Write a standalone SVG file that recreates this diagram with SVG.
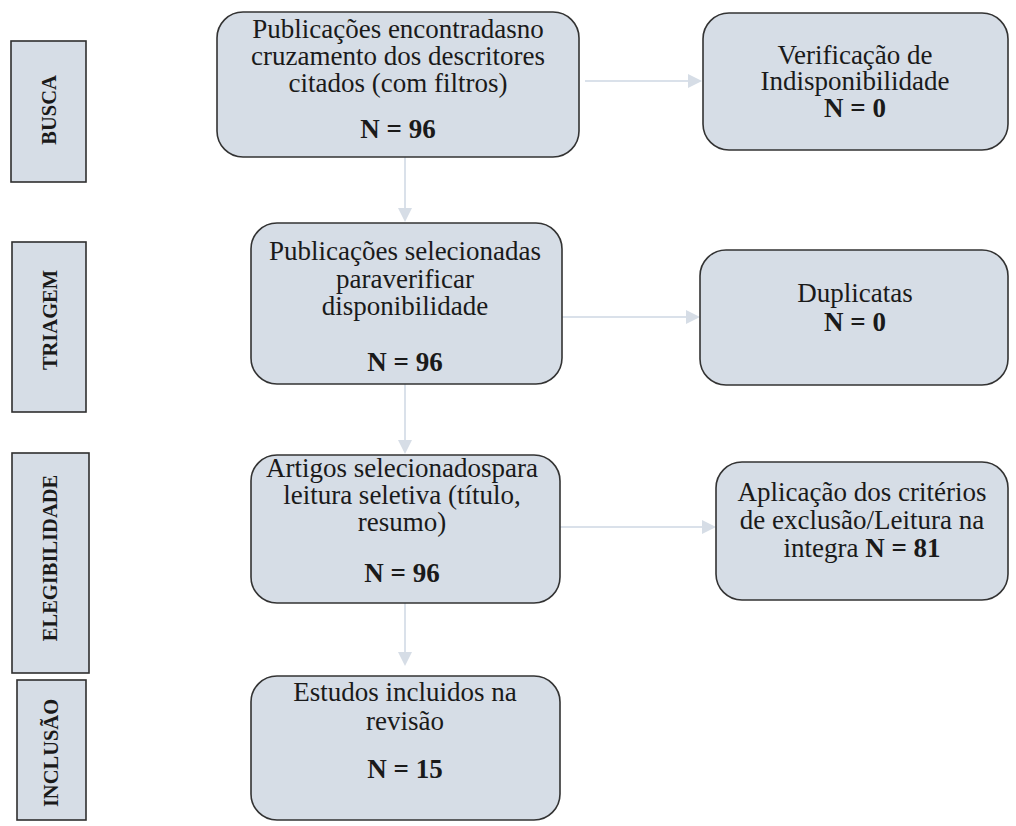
<svg xmlns="http://www.w3.org/2000/svg" width="1016" height="826" viewBox="0 0 1016 826">
<style>
.bx{fill:#d6dde6;stroke:#333;stroke-width:1.6}
.sb{fill:#d6dde6;stroke:#2f2f2f;stroke-width:1.6}
.t{font-family:"Liberation Serif","Times New Roman",serif;font-size:27px;fill:#1a1a1a;text-anchor:middle}
.b{font-weight:bold}
.s{font-family:"Liberation Serif","Times New Roman",serif;font-size:20.5px;font-weight:bold;fill:#1a1a1a;text-anchor:middle}
.c{stroke:#dae1ea;stroke-width:2;fill:none}
.ah{fill:#d6dde6}
</style>
<rect width="1016" height="826" fill="#ffffff"/>
<g id="connectors">
<line class="c" x1="585" y1="81" x2="690" y2="81"/><polygon class="ah" points="702,81 688,74 688,88"/>
<line class="c" x1="562" y1="317" x2="688" y2="317"/><polygon class="ah" points="700,317 686,310 686,324"/>
<line class="c" x1="560" y1="527" x2="704" y2="527"/><polygon class="ah" points="716,527 702,520 702,534"/>
<line class="c" x1="405" y1="157" x2="405" y2="210"/><polygon class="ah" points="405,222 398,208 412,208"/>
<line class="c" x1="405" y1="384" x2="405" y2="442"/><polygon class="ah" points="405,454 398,440 412,440"/>
<line class="c" x1="405" y1="603" x2="405" y2="654"/><polygon class="ah" points="405,666 398,652 412,652"/>
</g>
<g id="busca"><rect class="sb" x="11" y="41" width="75" height="141"/><text class="s" transform="translate(56,110) rotate(-90)">BUSCA</text></g>
<g id="triagem"><rect class="sb" x="12" y="242" width="74" height="170"/><text class="s" transform="translate(57,320) rotate(-90)">TRIAGEM</text></g>
<g id="elegibilidade"><rect class="sb" x="12" y="453" width="77" height="220"/><text class="s" transform="translate(57,558) rotate(-90)">ELEGIBILIDADE</text></g>
<g id="inclusao"><rect class="sb" x="17" y="680" width="69" height="140"/><text class="s" transform="translate(58,753) rotate(-90)">INCLUSÃO</text></g>
<g id="n1"><rect class="bx" x="217" y="12" width="362" height="145" rx="26"/>
<text class="t" x="398" y="38">Publicações encontradasno</text>
<text class="t" x="398" y="65">cruzamento dos descritores</text>
<text class="t" x="398" y="92">citados (com filtros)</text>
<text class="t b" x="398" y="138">N = 96</text></g>
<g id="n2"><rect class="bx" x="703" y="13" width="305" height="137" rx="26"/>
<text class="t" x="855" y="64">Verificação de</text>
<text class="t" x="855" y="90">Indisponibilidade</text>
<text class="t b" x="855" y="117">N = 0</text></g>
<g id="n3"><rect class="bx" x="251" y="223" width="311" height="161" rx="26"/>
<text class="t" x="405" y="260">Publicações selecionadas</text>
<text class="t" x="405" y="288">paraverificar</text>
<text class="t" x="405" y="315">disponibilidade</text>
<text class="t b" x="405" y="371">N = 96</text></g>
<g id="n4"><rect class="bx" x="700" y="250" width="308" height="135" rx="26"/>
<text class="t" x="855" y="302">Duplicatas</text>
<text class="t b" x="855" y="331">N = 0</text></g>
<g id="n5"><rect class="bx" x="251" y="455" width="309" height="148" rx="26"/>
<text class="t" x="402" y="477">Artigos selecionadospara</text>
<text class="t" x="402" y="504">leitura seletiva (título,</text>
<text class="t" x="402" y="531">resumo)</text>
<text class="t b" x="402" y="582">N = 96</text></g>
<g id="n6"><rect class="bx" x="716" y="462" width="292" height="138" rx="26"/>
<text class="t" x="862" y="501">Aplicação dos critérios</text>
<text class="t" x="862" y="529">de exclusão/Leitura na</text>
<text class="t" x="862" y="557">integra <tspan class="b">N = 81</tspan></text></g>
<g id="n7"><rect class="bx" x="251" y="676" width="309" height="144" rx="26"/>
<text class="t" x="405" y="701">Estudos incluidos na</text>
<text class="t" x="405" y="730">revisão</text>
<text class="t b" x="405" y="778">N = 15</text></g>
</svg>
